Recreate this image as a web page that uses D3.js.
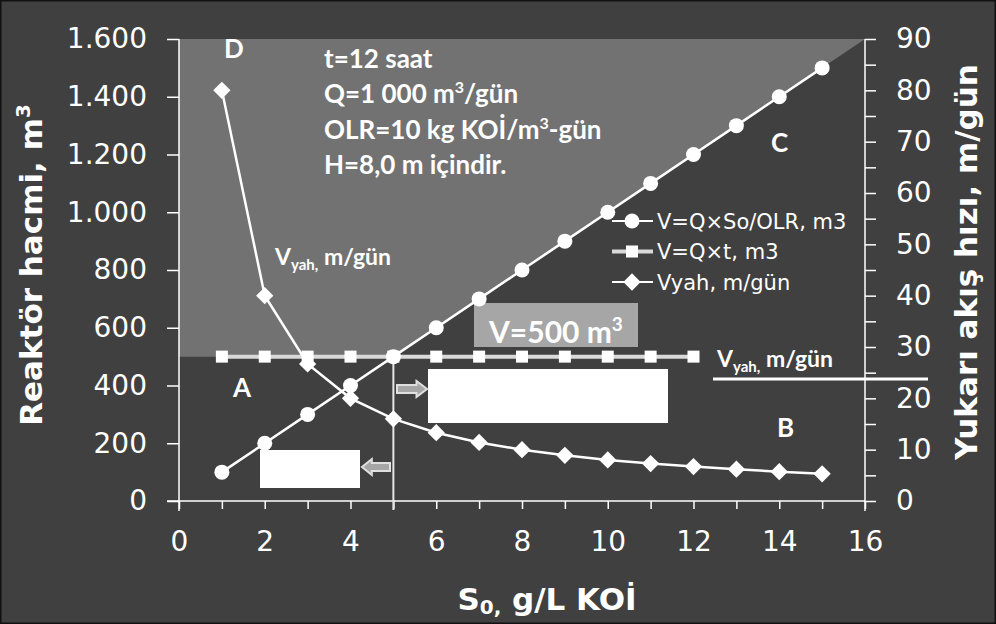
<!DOCTYPE html>
<head>
  <meta charset="utf-8" />
  <script src="https://d3js.org/d3.v7.min.js"></script>
  <style>
    body { margin: 0; background: #404040; }
    svg { display: block; }
    .tick text { font-family: "DejaVu Sans", sans-serif; font-size: 28px; fill: #fff; }
    .axis path, .axis line { stroke: #fff; stroke-width: 1.5px; }
    .title { font-family: "DejaVu Sans", sans-serif; font-weight: bold; font-size: 31px; fill: #fff; }
    .note { font-family: Lato, sans-serif; font-weight: bold; fill: #fff; }
    .leg { font-family: "DejaVu Sans", sans-serif; font-size: 21px; fill: #fff; }
  </style>
</head>
<body>
<script>
  var width = 996, height = 624;

  // veriler
  var s0 = [1, 2, 3, 4, 5, 6, 7, 8, 9, 10, 11, 12, 13, 14, 15];
  var vOlr = [100, 200, 300, 400, 500, 600, 700, 800, 900, 1000, 1100, 1200, 1300, 1400, 1500];
  var s0Qt = [1, 2, 3, 4, 5, 6, 7, 8, 9, 10, 11, 12];
  var vQt = [500, 500, 500, 500, 500, 500, 500, 500, 500, 500, 500, 500];
  var vyah = [80, 40, 26.7, 20, 16, 13.3, 11.4, 10, 8.9, 8, 7.3, 6.7, 6.2, 5.7, 5.3];
  var xTicks = d3.range(0, 17);
  var yTicks = [0, 200, 400, 600, 800, 1000, 1200, 1400, 1600];
  var y2Ticks = d3.range(0, 95, 5);
  var legendNames = ["V=Q×So/OLR, m3", "V=Q×t, m3", "Vyah, m/gün"];
  var notes = ["t=12 saat", "Q=1 000 m|3|/gün", "OLR=10 kg KOİ/m|3|-gün", "H=8,0 m içindir."];

  var svg = d3.select("body").append("svg")
    .attr("width", width).attr("height", height);

  svg.append("rect").attr("width", width).attr("height", height)
    .attr("fill", "#404040").attr("stroke", "#111").attr("stroke-width", 3);

  var x = d3.scaleLinear().domain([0, 16]).range([179, 865]);
  var y = d3.scaleLinear().domain([0, 1600]).range([501, 39]);
  var y2 = d3.scaleLinear().domain([0, 90]).range([501, 39]);

  var loc = d3.formatLocale({ decimal: ",", thousands: ".", grouping: [3], currency: ["", ""] });
  var fmt = loc.format(",");

  // gri bolge (V >= 500 ve V >= Q*So/OLR)
  var area = [[0, 500], [0, 1600], [16, 1600], [5, 500]];
  svg.append("path")
    .attr("d", d3.line().x(d => x(d[0])).y(d => y(d[1]))(area) + "Z")
    .attr("fill", "#727272");

  // eksenler
  svg.append("g").attr("class", "axis")
    .attr("transform", "translate(0," + y(0) + ")")
    .call(d3.axisBottom(x).tickValues(xTicks).tickSize(8).tickPadding(22)
      .tickFormat(d => d % 2 === 0 ? d : ""))
    .call(g => g.select(".domain").attr("d", "M" + (x(0) - 12) + ",0H" + x(16)));

  svg.append("g").attr("class", "axis")
    .attr("transform", "translate(" + x(0) + ",0)")
    .call(d3.axisLeft(y).tickValues(yTicks).tickSize(12).tickPadding(20).tickFormat(fmt))
    .call(g => g.select(".domain").attr("d", "M0," + y(1600) + "V" + (y(0) + 10)));

  svg.append("g").attr("class", "axis")
    .attr("transform", "translate(" + x(16) + ",0)")
    .call(d3.axisRight(y2).tickValues(y2Ticks).tickSize(11).tickPadding(20)
      .tickFormat(d => d % 10 === 0 ? d : ""))
    .call(g => g.select(".domain").attr("d", "M0," + y2(90) + "V" + (y2(0) + 10)));

  // eksen basliklari
  var tl = svg.append("text").attr("class", "title")
    .attr("transform", "translate(42,265) rotate(-90)").attr("text-anchor", "middle");
  tl.append("tspan").text("Reaktör hacmi, m");
  tl.append("tspan").attr("font-size", 20).attr("dy", -12).text("3");

  svg.append("text").attr("class", "title")
    .attr("transform", "translate(977,262) rotate(-90)").attr("text-anchor", "middle")
    .text("Yukarı akış hızı, m/gün");

  var tx = svg.append("text").attr("class", "title").attr("x", 547).attr("y", 610)
    .attr("text-anchor", "middle");
  tx.append("tspan").text("S");
  tx.append("tspan").attr("font-size", 20).attr("dy", 4).text("0,");
  tx.append("tspan").attr("dy", -4).text(" g/L KOİ");

  // V = 5 dikey cizgi
  svg.append("line").attr("x1", x(5)).attr("x2", x(5)).attr("y1", y(500)).attr("y2", y(0) + 9)
    .attr("stroke", "#e6e6e6").attr("stroke-width", 2);

  // V=500 kutusu
  svg.append("rect").attr("x", 474).attr("y", 303).attr("width", 164).attr("height", 44)
    .attr("fill", "#a6a6a6");
  var t5 = svg.append("text").attr("class", "note").attr("x", 489).attr("y", 343)
    .attr("font-size", 30);
  t5.append("tspan").text("V=500 m");
  t5.append("tspan").attr("font-size", 19).attr("dy", -12).text("3");

  // V=Q*t serisi
  svg.append("path").datum(s0Qt)
    .attr("d", d3.line().x(d => x(d)).y((d, i) => y(vQt[i])))
    .attr("fill", "none").attr("stroke", "#d9d9d9").attr("stroke-width", 4);
  svg.selectAll(".sq").data(s0Qt).join("rect").attr("class", "sq")
    .attr("x", d => x(d) - 6).attr("y", (d, i) => y(vQt[i]) - 6)
    .attr("width", 12).attr("height", 12).attr("fill", "#fff");

  // Vyah serisi
  svg.append("path").datum(s0)
    .attr("d", d3.line().x(d => x(d)).y((d, i) => y2(vyah[i])))
    .attr("fill", "none").attr("stroke", "#fff").attr("stroke-width", 2.5);
  var diamond = d3.symbol().type(d3.symbolDiamond2).size(190);
  svg.selectAll(".dm").data(s0).join("path").attr("class", "dm")
    .attr("d", diamond)
    .attr("transform", (d, i) => "translate(" + x(d) + "," + y2(vyah[i]) + ")")
    .attr("fill", "#fff");

  // V=Q*So/OLR serisi
  svg.append("path").datum(s0)
    .attr("d", d3.line().x(d => x(d)).y((d, i) => y(vOlr[i])))
    .attr("fill", "none").attr("stroke", "#fff").attr("stroke-width", 2.5);
  svg.selectAll(".cr").data(s0).join("circle").attr("class", "cr")
    .attr("cx", d => x(d)).attr("cy", (d, i) => y(vOlr[i])).attr("r", 7.5)
    .attr("fill", "#fff");

  // beyaz kutular ve oklar
  svg.append("rect").attr("x", 428).attr("y", 369).attr("width", 240).attr("height", 54).attr("fill", "#fff");
  svg.append("rect").attr("x", 260).attr("y", 450).attr("width", 100).attr("height", 38).attr("fill", "#fff");

  function arrow(x0, yc, len, dir) {
    var h = len * 0.35, b = 4, hw = 8;
    var pts = [[0, -b], [len - h, -b], [len - h, -hw], [len, 0], [len - h, hw], [len - h, b], [0, b]];
    svg.append("path")
      .attr("d", d3.line()(pts) + "Z")
      .attr("transform", "translate(" + x0 + "," + yc + ") scale(" + dir + ",1)")
      .attr("fill", "#a6a6a6").attr("stroke", "#e0e0e0").attr("stroke-width", 2);
  }
  arrow(397, 389, 30, 1);
  arrow(390, 467, 28, -1);

  // Vyah isaret cizgisi
  svg.append("line").attr("x1", 713).attr("x2", 928).attr("y1", 379).attr("y2", 379)
    .attr("stroke", "#fff").attr("stroke-width", 3);

  function vyahLabel(px, py) {
    var t = svg.append("text").attr("class", "note").attr("x", px).attr("y", py).attr("font-size", 23);
    t.append("tspan").text("V");
    t.append("tspan").attr("font-size", 15).attr("dy", 5).text("yah,");
    t.append("tspan").attr("dy", -5).text(" m/gün");
  }
  vyahLabel(275, 265);
  vyahLabel(717, 367);

  // notlar
  notes.forEach(function (n, i) {
    var t = svg.append("text").attr("class", "note").attr("x", 324).attr("y", 68 + i * 35.3)
      .attr("font-size", 26);
    n.split("|").forEach(function (p, j) {
      if (j === 1) t.append("tspan").attr("font-size", 16).attr("dy", -10).text(p);
      else t.append("tspan").attr("dy", j === 2 ? 10 : 0).text(p);
    });
  });

  // harfler
  var letters = [["D", 224, 58], ["C", 771, 152], ["A", 233, 397], ["B", 777, 437]];
  letters.forEach(function (l) {
    svg.append("text").attr("class", "note").attr("x", l[1]).attr("y", l[2])
      .attr("font-size", 26).text(l[0]);
  });

  // lejant
  var leg = svg.append("g").attr("transform", "translate(612,221)");
  legendNames.forEach(function (n, i) {
    var g = leg.append("g").attr("transform", "translate(0," + (i * 30.5) + ")");
    g.append("line").attr("x1", 0).attr("x2", 41)
      .attr("stroke", i === 1 ? "#d9d9d9" : "#fff").attr("stroke-width", i === 1 ? 4 : 2);
    if (i === 0) g.append("circle").attr("cx", 20).attr("r", 7.5).attr("fill", "#fff");
    if (i === 1) g.append("rect").attr("x", 14).attr("y", -6).attr("width", 12).attr("height", 12).attr("fill", "#fff");
    if (i === 2) g.append("path").attr("d", diamond).attr("transform", "translate(20,0)").attr("fill", "#fff");
    g.append("text").attr("class", "leg").attr("x", 45).attr("dy", "0.36em").text(n);
  });
</script>
</body>
